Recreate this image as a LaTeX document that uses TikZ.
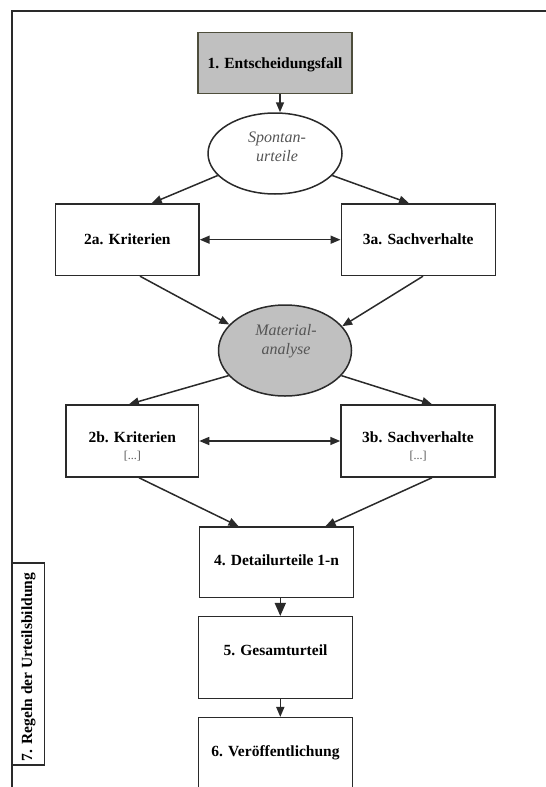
\documentclass[tikz,border=0pt]{standalone}
\usepackage{fontspec}
\setmainfont{Liberation Serif}
\usetikzlibrary{arrows.meta,shapes.geometric}
\definecolor{ln}{HTML}{2A2A2A}
\definecolor{boxgray}{HTML}{C0C0C0}
\definecolor{olivebd}{HTML}{4E4E3C}
\definecolor{itgray}{HTML}{555555}
\begin{document}
\begin{tikzpicture}[x=1pt,y=-1pt,
 box/.style={draw=ln, line width=1.5pt, rectangle, inner sep=0pt,
   font=\fontsize{15.5}{18}\selectfont\bfseries, text=black, text height=10pt, text depth=0pt},
 oval/.style={draw=ln, line width=1.5pt, ellipse, inner sep=0pt},
 ovaltxt/.style={font=\fontsize{16}{19}\selectfont\itshape, text=itgray, align=center, inner sep=0pt},
 lbl/.style={font=\fontsize{15.5}{18}\selectfont\bfseries, text height=10pt, text depth=0pt, inner sep=0pt},
 dotstxt/.style={font=\fontsize{12}{14}\selectfont, text=itgray, inner sep=0pt},
 arr/.style={draw=ln, line width=1.5pt, -{Triangle[length=10pt,width=8pt]}},
 bigarr/.style={draw=ln, line width=1.5pt, -{Triangle[length=13pt,width=11pt]}},
 darr/.style={draw=ln, line width=1.5pt, {Triangle[length=10pt,width=8pt]}-{Triangle[length=10pt,width=8pt]}}
]
\useasboundingbox (0,0) rectangle (546,787);
\draw[ln, line width=1.5pt] (546,11) -- (12,11) -- (12,787);

\node[box, fill=boxgray, draw=olivebd, minimum width=154pt, minimum height=61pt] (b1) at (275,63) {1. Entscheidungsfall};

\node[oval, minimum width=134pt, minimum height=81pt] (sp) at (275,153.5) {};
\node[ovaltxt] (tsp) at (277,147) {Spontan-\\urteile};

\node[box, minimum width=143.3pt, minimum height=71.5pt] (b2a) at (127.3,239.7) {2a. Kriterien};
\node[box, minimum width=154pt, minimum height=71.5pt] (b3a) at (418.3,239.7) {3a. Sachverhalte};

\node[oval, fill=boxgray, minimum width=133pt, minimum height=91pt] (mat) at (285,350.5) {};
\node[ovaltxt] (tmat) at (286,341) {Material-\\analyse};

\node[box, minimum width=132.5pt, minimum height=72pt] (b2b) at (132.25,441) {};
\node[lbl] (t2b) at (132.25,437.7) {2b. Kriterien};
\node[dotstxt] (d2b) at (132.25,455.7) {[...]};
\node[box, minimum width=154pt, minimum height=72pt] (b3b) at (418,441) {};
\node[lbl] (t3b) at (418,437.7) {3b. Sachverhalte};
\node[dotstxt] (d3b) at (418,455.7) {[...]};

\node[box, minimum width=154pt, minimum height=70.5pt] (b4) at (276.5,562.2) {};
\node[lbl] (t4) at (276.5,560) {4. Detailurteile 1-n};
\node[box, minimum width=154pt, minimum height=81.6pt] (b5) at (275.5,657.5) {};
\node[lbl] (t5) at (275.5,650) {5. Gesamturteil};
\node[box, minimum width=154pt, minimum height=81.6pt] (b6) at (275.5,758.5) {};
\node[lbl] (t6) at (275.5,751.7) {6. Veröffentlichung};

\node[box, minimum width=32.5pt, minimum height=202pt] (b7) at (28.25,664) {};
\node[lbl, rotate=90] (t7) at (27,667) {7. Regeln der Urteilsbildung};

\draw[arr] ([xshift=5pt]b1.south) -- ([xshift=5pt]b1.south |- sp.north);
\draw[arr] (sp.201) -- ([xshift=24.4pt]b2a.north);
\draw[arr] (sp.339.7) -- ([xshift=-9.3pt]b3a.north);
\draw[darr] (b2a.east) -- (b3a.west);
\draw[arr] ([xshift=12.7pt]b2a.south) -- (mat.155.9);
\draw[arr] ([xshift=4.7pt]b3a.south) -- (mat.23.7);
\draw[arr] (mat.204.1) -- ([xshift=-3.3pt]b2b.north);
\draw[arr] (mat.336.3) -- ([xshift=14pt]b3b.north);
\draw[darr] (b2b.east) -- (b3b.west);
\draw[arr] ([xshift=6.75pt]b2b.south) -- ([xshift=-38pt]b4.north);
\draw[arr] ([xshift=14pt]b3b.south) -- ([xshift=49pt]b4.north);
\draw[bigarr] ([xshift=3.8pt]b4.south) -- ([xshift=3.8pt]b4.south |- b5.north);
\draw[arr] ([xshift=4.8pt]b5.south) -- ([xshift=4.8pt]b5.south |- b6.north);
\end{tikzpicture}
\end{document}
